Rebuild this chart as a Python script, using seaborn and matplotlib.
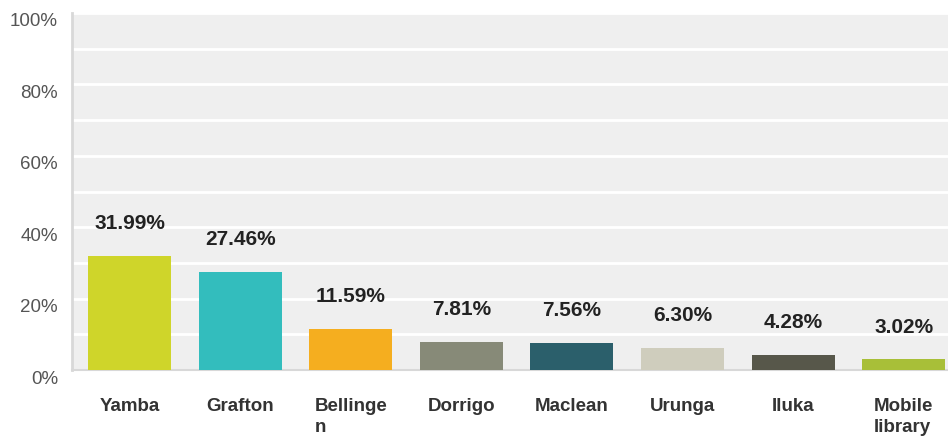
import matplotlib
matplotlib.use("Agg")
import matplotlib.pyplot as plt
import matplotlib.transforms as mtransforms
import seaborn as sns
import pandas as pd

categories = ["Yamba", "Grafton", "Bellinge\nn", "Dorrigo", "Maclean", "Urunga", "Iluka", "Mobile\nlibrary"]
values = [31.99, 27.46, 11.59, 7.81, 7.56, 6.30, 4.28, 3.02]
colors = ["#cfd52a", "#33bdbd", "#f5ae1f", "#878a78", "#2b5f6b", "#cfcdbd", "#57574a", "#a8bf38"]
yticks = [0, 20, 40, 60, 80, 100]

df = pd.DataFrame({"cat": categories, "val": values})

sns.set_style("whitegrid", {"axes.facecolor": "#efefef", "grid.color": "white",
                            "axes.edgecolor": "#d4d4d4"})
plt.rcParams["font.family"] = ["Liberation Sans", "DejaVu Sans"]

fig = plt.figure(figsize=(9.48, 4.37), dpi=100)
ax = fig.add_axes([72/948, 67/437, 1 - 72/948, (370-13)/437])

sns.barplot(data=df, x="cat", y="val", hue="cat", palette=colors, legend=False,
            width=0.75, saturation=1, ax=ax, zorder=3, linewidth=0, edgecolor="none")

ax.set_xlim(-0.52, 7.4)
ax.set_ylim(0, 100)
ax.set_yticks(range(0, 101, 10))
ax.set_yticklabels([f"{t}%" if t in yticks else "" for t in range(0, 101, 10)])
ax.grid(axis="y", color="white", linewidth=2, zorder=0)
ax.grid(axis="x", visible=False)
ax.set_axisbelow(True)
for s in ["top", "right"]:
    ax.spines[s].set_visible(False)
ax.spines["left"].set_linewidth(2)
ax.spines["left"].set_color("#d8d8d8")
ax.spines["bottom"].set_linewidth(1.5)
ax.spines["bottom"].set_color("#d8d8d8")

ax.tick_params(axis="y", length=0, pad=10, labelsize=13.5, labelcolor="#555555")
ax.tick_params(axis="x", length=0, pad=20, labelsize=13.5, labelcolor="#333333")
for lbl in ax.get_xticklabels():
    lbl.set_fontweight("bold")
    lbl.set_horizontalalignment("center")
    lbl.set_multialignment("left")
    lbl.set_linespacing(1.35)
    lbl.set_verticalalignment("top")
off = mtransforms.ScaledTranslation(0, -7/100, fig.dpi_scale_trans)
for lbl in ax.get_yticklabels():
    lbl.set_transform(lbl.get_transform() + off)

ax.set_xlabel("")
ax.set_ylabel("")

for i, v in enumerate(values):
    ax.text(i, v + 9.0, f"{v:.2f}%", ha="center", va="center",
            fontsize=15, fontweight="bold", color="#222222")

fig.savefig("out.png", dpi=100)
